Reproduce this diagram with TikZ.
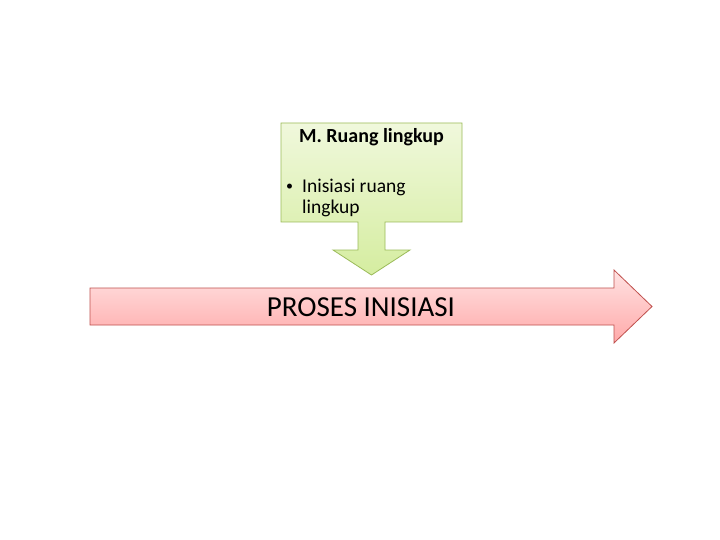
\documentclass[tikz,border=0pt]{standalone}
\usepackage{fontspec}
\setmainfont{Carlito}
\definecolor{gborder}{HTML}{9BBB59}
\definecolor{gtop}{HTML}{F0F8DC}
\definecolor{gbot}{HTML}{D5EDA0}
\definecolor{rborder}{HTML}{C0504D}
\definecolor{rtop}{HTML}{FFE3E3}
\definecolor{rbot}{HTML}{FFA9A9}
\tikzset{
  calloutshape/.style={draw=gborder, line width=0.8pt, top color=gtop, bottom color=gbot},
  bigarrow/.style={draw=rborder, line width=0.8pt, top color=rtop, bottom color=rbot},
  txt/.style={inner sep=0pt, anchor=base west, text=black}
}
\begin{document}
\begin{tikzpicture}[x=1pt,y=-1pt]
\useasboundingbox (0,0) rectangle (720,540);
\fill[white] (0,0) rectangle (720,540);
% big arrow
\draw[bigarrow] (90,288) -- (614,288) -- (614,270) -- (652,306.5) -- (614,343) -- (614,325) -- (90,325) -- cycle;
\node[inner sep=0pt, anchor=base, font=\fontsize{29}{32}\selectfont] (proses) at (361,316) {PROSES INISIASI};
% callout
\draw[calloutshape] (281,123) -- (462,123) -- (462,222) -- (385,222) -- (385,250) -- (410,250) -- (371.5,275) -- (333,250) -- (358,250) -- (358,222) -- (281,222) -- cycle;
\node[inner sep=0pt, anchor=base, font=\fontsize{20}{22}\bfseries\selectfont] (title) at (371.5,143) {M. Ruang lingkup};
\node[txt, font=\fontsize{14}{16}\selectfont] (bullet) at (286,191) {•};
\node[txt, font=\fontsize{19.5}{22}\selectfont] (l1) at (302,193) {Inisiasi ruang};
\node[txt, font=\fontsize{19.5}{22}\selectfont] (l2) at (302,214) {lingkup};
\end{tikzpicture}
\end{document}
